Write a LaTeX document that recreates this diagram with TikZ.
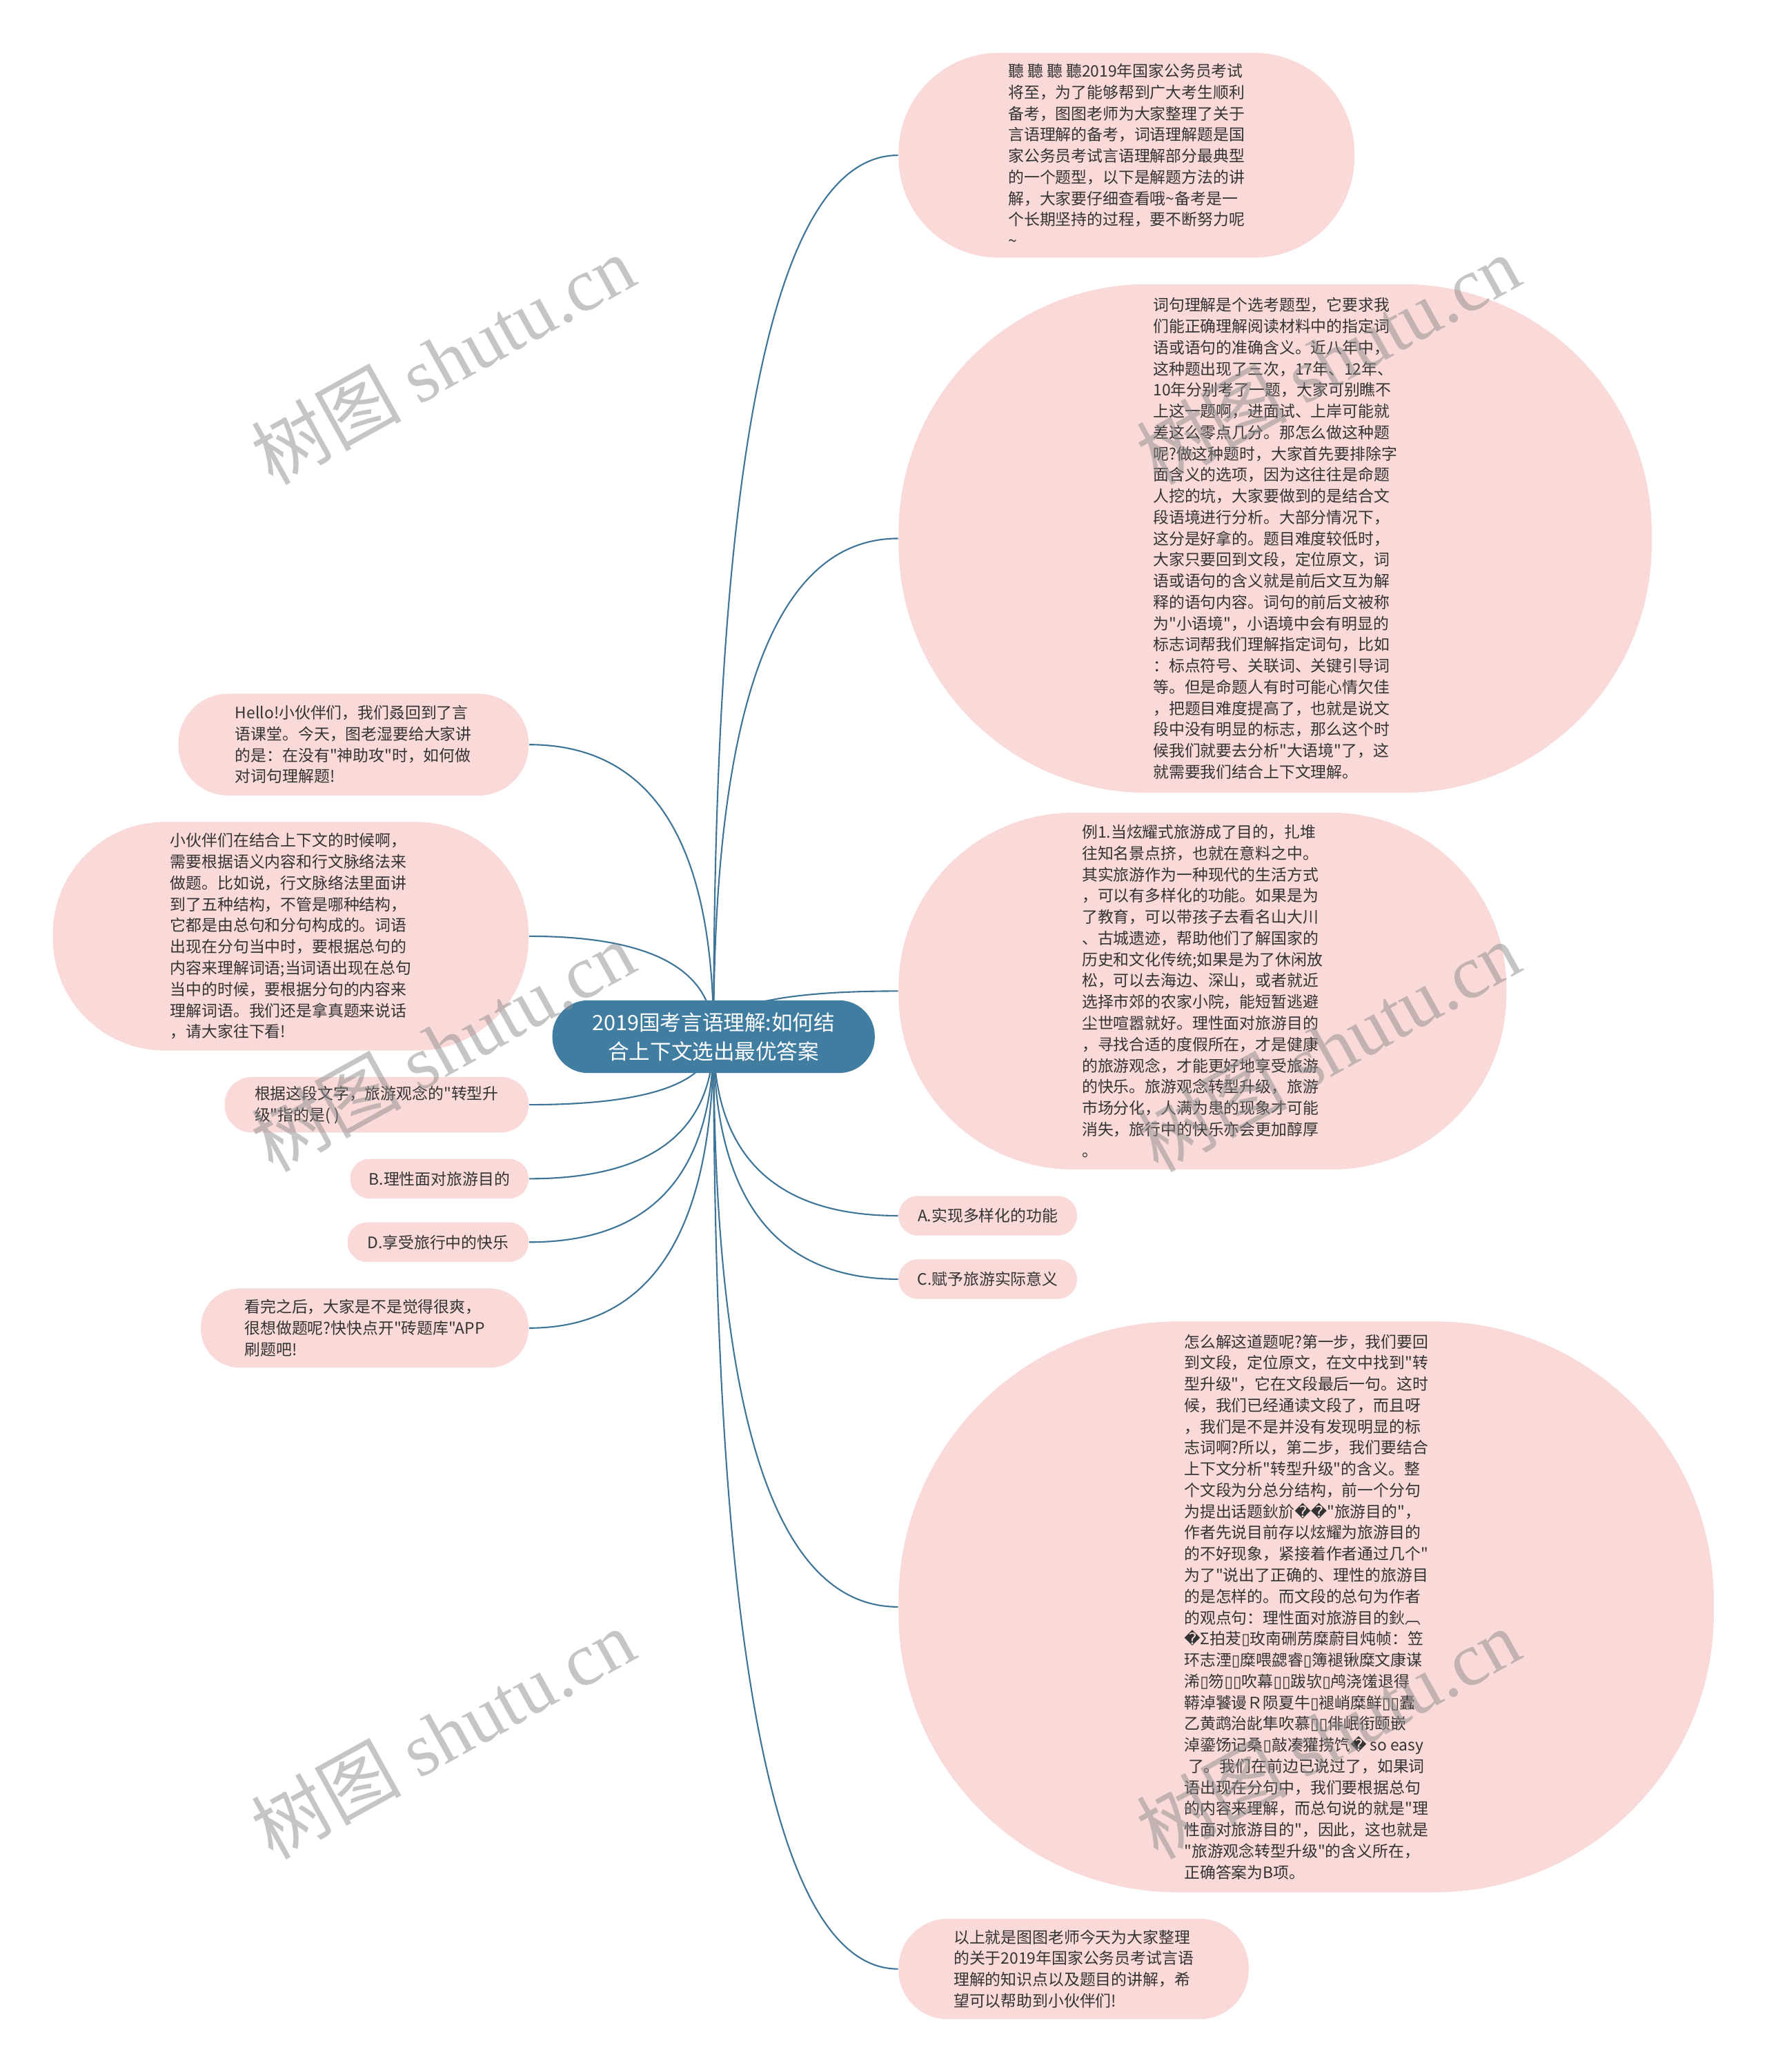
\documentclass[tikz,border=0pt]{standalone}
\usepackage{fontspec}
\newfontfamily\cjkfont{Noto Sans CJK SC}
\newfontfamily\symfont{DejaVu Sans}
\newfontfamily\wmserif{Liberation Serif}
\usetikzlibrary{backgrounds, calc}

\definecolor{leafpink}{HTML}{FAD9D9}
\definecolor{hubblue}{HTML}{407DA1}
\definecolor{linkblue}{HTML}{3E7497}
\definecolor{inkgray}{HTML}{333333}

\newcommand\unitpx{0.019147cm}
\newcommand\bx{{\symfont ▯}}
\newcommand\rp{{\symfont �}}

\begin{document}
\begin{tikzpicture}[
  x=0.019147cm, y=-0.019147cm,
  font=\cjkfont\fontsize{6.5}{8.75}\selectfont,
  leaf/.style 2 args={fill=leafpink, text=inkgray, align=left, inner sep=0pt,
    minimum width=#1*\unitpx, minimum height=#2*\unitpx,
    rounded corners=0.49*#2*\unitpx},
  hub/.style={fill=hubblue, text=white, align=center, inner sep=0pt,
    minimum width=244*\unitpx, minimum height=55*\unitpx,
    rounded corners=27*\unitpx, font=\cjkfont\fontsize{8.7}{12}\selectfont},
  branch/.style={draw=linkblue, line width=0.6pt},
  bow/.style={to path={.. controls ($(\tikztostart)!2/3!(\tikztostart |- \tikztotarget)$)
      and ($(\tikztotarget)!2/3!(\tikztostart |- \tikztotarget)$) .. (\tikztotarget)}},
  wmark/.style={rotate=29, text=black!45, opacity=0.5, font=\cjkfont\fontsize{31}{31}\selectfont},
]
\useasboundingbox (0,0) rectangle (1337,1568);

% centre
\node[hub] (root) at (540,784.5) {2019国考言语理解:如何结\\合上下文选出最优答案};

% right side
\node[leaf={345}{155}] (intro) at (852.5,117.5)
  {聽 聽 聽 聽2019年国家公务员考试\\将至，为了能够帮到广大考生顺利\\备考，图图老师为大家整理了关于\\言语理解的备考，词语理解题是国\\家公务员考试言语理解部分最典型\\的一个题型，以下是解题方法的讲\\解，大家要仔细查看哦\textasciitilde 备考是一\\个长期坚持的过程，要不断努力呢\\\textasciitilde};
\node[leaf={570}{385}] (method) at (965,407.5)
  {词句理解是个选考题型，它要求我\\们能正确理解阅读材料中的指定词\\语或语句的准确含义。近八年中，\\这种题出现了三次，17年、12年、\\10年分别考了一题，大家可别瞧不\\上这一题啊，进面试、上岸可能就\\差这么零点几分。那怎么做这种题\\呢?做这种题时，大家首先要排除字\\面含义的选项，因为这往往是命题\\人挖的坑，大家要做到的是结合文\\段语境进行分析。大部分情况下，\\这分是好拿的。题目难度较低时，\\大家只要回到文段，定位原文，词\\语或语句的含义就是前后文互为解\\释的语句内容。词句的前后文被称\\为"小语境"，小语境中会有明显的\\标志词帮我们理解指定词句，比如\\：标点符号、关联词、关键引导词\\等。但是命题人有时可能心情欠佳\\，把题目难度提高了，也就是说文\\段中没有明显的标志，那么这个时\\候我们就要去分析"大语境"了，这\\就需要我们结合上下文理解。};
\node[leaf={460}{270}] (example) at (910,750)
  {例1.当炫耀式旅游成了目的，扎堆\\往知名景点挤，也就在意料之中。\\其实旅游作为一种现代的生活方式\\，可以有多样化的功能。如果是为\\了教育，可以带孩子去看名山大川\\、古城遗迹，帮助他们了解国家的\\历史和文化传统;如果是为了休闲放\\松，可以去海边、深山，或者就近\\选择市郊的农家小院，能短暂逃避\\尘世喧嚣就好。理性面对旅游目的\\，寻找合适的度假所在，才是健康\\的旅游观念，才能更好地享受旅游\\的快乐。旅游观念转型升级，旅游\\市场分化，人满为患的现象才可能\\消失，旅行中的快乐亦会更加醇厚\\。};
\node[leaf={135}{30}] (optA) at (747.5,920) {A.实现多样化的功能};
\node[leaf={135}{30}] (optC) at (747.5,968) {C.赋予旅游实际意义};
\node[leaf={617}{432}] (analysis) at (988.5,1216)
  {怎么解这道题呢?第一步，我们要回\\到文段，定位原文，在文中找到"转\\型升级"，它在文段最后一句。这时\\候，我们已经通读文段了，而且呀\\，我们是不是并没有发现明显的标\\志词啊?所以，第二步，我们要结合\\上下文分析"转型升级"的含义。整\\个文段为分总分结构，前一个分句\\为提出话题鈥斺\rp\rp"旅游目的"，\\作者先说目前存以炫耀为旅游目的\\的不好现象，紧接着作者通过几个"\\为了"说出了正确的、理性的旅游目\\的是怎样的。而文段的总句为作者\\的观点句：理性面对旅游目的鈥︹\\\rp Σ拍茇\bx 玫南硎苈糜蔚目炖帧：笠\\环志湮\bx 糜喂勰睿\bx 簿褪锹糜文康谋\\浠\bx 笏\bx\bx 吹幕\bx\bx 跋欤\bx 鸬浇馐退得\\鞯淖饕谩Ｒ陨夏牛\bx 褪峭糜鲜\bx\bx 蠹\\乙黄鹉治龀隼吹慕\bx\bx 俳岷衔颐嵌\\淖鎏饧记桑\bx 敲凑獾捞饩\rp{} so easy\\\hspace{.25em}了。我们在前边已说过了，如果词\\语出现在分句中，我们要根据总句\\的内容来理解，而总句说的就是"理\\性面对旅游目的"，因此，这也就是\\"旅游观念转型升级"的含义所在，\\正确答案为B项。};
\node[leaf={265}{76}] (outro) at (812.5,1490)
  {以上就是图图老师今天为大家整理\\的关于2019年国家公务员考试言语\\理解的知识点以及题目的讲解，希\\望可以帮助到小伙伴们!};

% left side
\node[leaf={265}{77}] (hello) at (267.5,563.5)
  {Hello!小伙伴们，我们叒回到了言\\语课堂。今天，图老湿要给大家讲\\的是：在没有"神助攻"时，如何做\\对词句理解题!};
\node[leaf={360}{173}] (context) at (220,708.5)
  {小伙伴们在结合上下文的时候啊，\\需要根据语义内容和行文脉络法来\\做题。比如说，行文脉络法里面讲\\到了五种结构，不管是哪种结构，\\它都是由总句和分句构成的。词语\\出现在分句当中时，要根据总句的\\内容来理解词语;当词语出现在总句\\当中的时候，要根据分句的内容来\\理解词语。我们还是拿真题来说话\\，请大家往下看!};
\node[leaf={230}{42}] (question) at (285,836)
  {根据这段文字，旅游观念的"转型升\\级"指的是( )};
\node[leaf={135}{30}] (optB) at (332.5,892) {B.理性面对旅游目的};
\node[leaf={137}{30}] (optD) at (331.5,940) {D.享受旅行中的快乐};
\node[leaf={248}{60}] (practice) at (276,1005)
  {看完之后，大家是不是觉得很爽，\\很想做题呢?快快点开"砖题库"APP\\刷题吧!};

\begin{scope}[on background layer]
  \fill[white] (0,0) rectangle (1337,1568);
  \draw[branch] (root.center) to[bow] (intro.west);
  \draw[branch] (root.center) to[bow] (method.west);
  \draw[branch] (root.center) to[bow] (example.west);
  \draw[branch] (root.center) to[bow] (optA.west);
  \draw[branch] (root.center) to[bow] (optC.west);
  \draw[branch] (root.center) to[bow] (analysis.west);
  \draw[branch] (root.center) to[bow] (outro.west);
  \draw[branch] (root.center) to[bow] (hello.east);
  \draw[branch] (root.center) to[bow] (context.east);
  \draw[branch] (root.center) to[bow] (question.east);
  \draw[branch] (root.center) to[bow] (optB.east);
  \draw[branch] (root.center) to[bow] (optD.east);
  \draw[branch] (root.center) to[bow] (practice.east);
\end{scope}

% watermark
\foreach \wx/\wy [count=\i] in {335/272, 335/792, 335/1312, 1005/272, 1005/792, 1005/1312}
  \node[wmark] (wm\i) at (\wx,\wy) {树图 {\wmserif shutu.cn}};

\end{tikzpicture}
\end{document}
